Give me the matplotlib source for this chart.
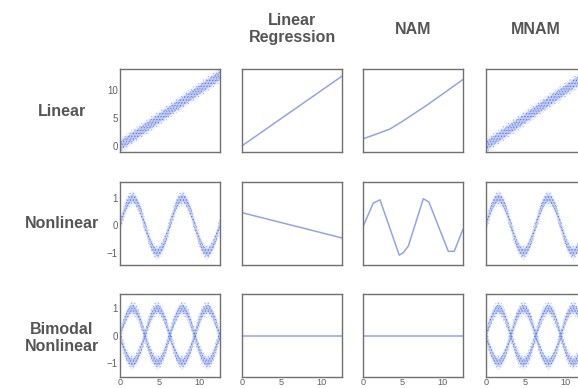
import matplotlib
matplotlib.use("Agg")
import matplotlib.pyplot as plt
import numpy as np

plt.rcParams['font.family'] = ['Liberation Sans', 'DejaVu Sans']
plt.rcParams['hatch.linewidth'] = 0.5

# ---- data ----
row_labels = ["Linear", "Nonlinear", "Bimodal\nNonlinear"]
col_titles = ["", "Linear\nRegression", "NAM", "MNAM"]
x_ticks = [0, 5, 10]
y_ticks = [[0, 5, 10], [-1, 0, 1], [-1, 0, 1]]
y_limits = [(-1.1, 13.7), (-1.45, 1.58), (-1.52, 1.52)]

# observed linear band (centre line, core and outer half-widths of the noisy cloud)
lin_x = [0.0, 12.57]
lin_center = [0.0, 12.57]
lin_core = 0.8
lin_outer = 1.3

# observed sinusoidal band centre
sin_x = [0.0, 0.39, 0.79, 1.18, 1.57, 1.96, 2.36, 2.75, 3.14, 3.53, 3.93,
         4.32, 4.71, 5.11, 5.50, 5.89, 6.28, 6.68, 7.07, 7.46, 7.85, 8.25,
         8.64, 9.03, 9.42, 9.82, 10.21, 10.60, 11.00, 11.39, 11.78, 12.17,
         12.57]
sin_center = [0.0, 0.38, 0.71, 0.92, 1.0, 0.92, 0.71, 0.38, 0.0, -0.38,
              -0.71, -0.92, -1.0, -0.92, -0.71, -0.38, 0.0, 0.38, 0.71, 0.92,
              1.0, 0.92, 0.71, 0.38, 0.0, -0.38, -0.71, -0.92, -1.0, -0.92,
              -0.71, -0.38, 0.0]
sin_core = 0.14
sin_outer = 0.26
bimodal_center_a = sin_center
bimodal_center_b = [-v for v in sin_center]

# linear regression fits
lr_x = [0.0, 12.57]
lr_linear = [0.0, 12.4]
lr_nonlinear = [0.46, -0.46]
lr_bimodal = [0.0, 0.0]

# NAM fits
nam_lin_x = [0.0, 1.7, 3.4, 5.0, 8.1, 12.57]
nam_lin_y = [1.25, 2.1, 3.0, 4.4, 7.3, 11.8]
nam_sin_x = [0.0, 1.3, 2.14, 4.57, 5.08, 5.71, 7.6, 8.3, 10.75, 11.5, 12.57]
nam_sin_y = [-0.05, 0.81, 0.93, -1.09, -1.0, -0.76, 0.97, 0.85, -0.95, -0.95, -0.16]
nam_bimodal_x = [0.0, 12.57]
nam_bimodal_y = [0.0, 0.0]

# ---- style ----
W, H = 578, 388
fig = plt.figure(figsize=(W / 100, H / 100), dpi=100)
col_left = [120, 242, 363, 486]
row_top = [69, 182, 294]
ax_w, ax_h = 100, 83
line_col = '#93a3ea'
text_col = '#555555'
tick_col = '#606060'
spine_col = '#707070'


def band(ax, x, c, core, outer):
    c = np.asarray(c, dtype=float)
    # faint outer haze of scattered points
    ax.fill_between(x, c - outer, c + outer, facecolor=(0.40, 0.52, 0.90, 0.10),
                    edgecolor=(0.33, 0.46, 0.88, 0.45), hatch='.....', linewidth=0)
    # dense core of points
    ax.fill_between(x, c - core, c + core, facecolor=(0.35, 0.47, 0.89, 0.30),
                    edgecolor=(0.28, 0.40, 0.86, 0.70), hatch='......', linewidth=0)


data_bands = [
    [(lin_x, lin_center, lin_core, lin_outer)],
    [(sin_x, sin_center, sin_core, sin_outer)],
    [(sin_x, bimodal_center_a, sin_core, sin_outer),
     (sin_x, bimodal_center_b, sin_core, sin_outer)],
]
lr_lines = [lr_linear, lr_nonlinear, lr_bimodal]
nam_lines = [(nam_lin_x, nam_lin_y), (nam_sin_x, nam_sin_y), (nam_bimodal_x, nam_bimodal_y)]

for r in range(3):
    for c in range(4):
        left = col_left[c] / W
        bottom = 1 - (row_top[r] + ax_h) / H
        ax = fig.add_axes([left, bottom, ax_w / W, ax_h / H])
        ax.set_xlim(0, 12.6)
        ax.set_ylim(*y_limits[r])
        if c == 0 or c == 3:
            for bx, bc, bcore, bout in data_bands[r]:
                band(ax, bx, bc, bcore, bout)
        elif c == 1:
            ax.plot(lr_x, lr_lines[r], color=line_col, lw=1.1)
        else:
            ax.plot(nam_lines[r][0], nam_lines[r][1], color=line_col, lw=1.1)
        ax.set_xticks(x_ticks)
        ax.set_yticks(y_ticks[r])
        ax.tick_params(axis='y', length=0, pad=1.5, labelsize=7, colors=tick_col)
        ax.tick_params(axis='x', length=0, pad=0.8, labelsize=6.6, colors=tick_col)
        if r != 2:
            ax.set_xticklabels([])
        if c != 0:
            ax.set_yticklabels([])
        for s in ax.spines.values():
            s.set_color(spine_col)
            s.set_linewidth(1.0)

# column titles
for c in range(1, 4):
    cx = (col_left[c] + ax_w / 2) / W
    fig.text(cx, 1 - 29 / H, col_titles[c], ha='center', va='center',
             fontsize=11.5, fontweight='bold', color=text_col, linespacing=1.15)

# row labels
row_centers = [112, 224, 338]
for r in range(3):
    fig.text(62 / W, 1 - row_centers[r] / H, row_labels[r], ha='center', va='center',
             fontsize=11.5, fontweight='bold', color=text_col, linespacing=1.15)

fig.savefig('out.png', dpi=100)
